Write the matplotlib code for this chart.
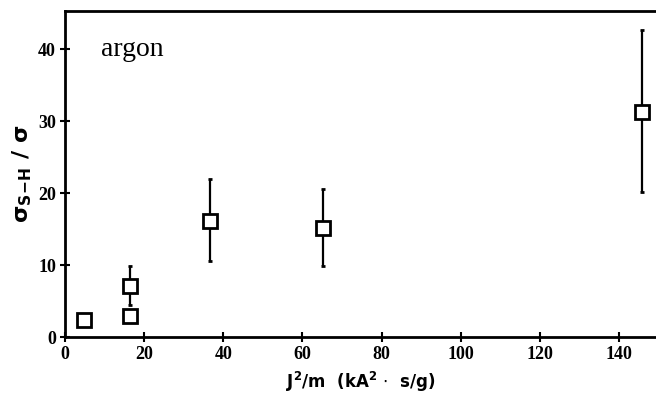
import matplotlib
matplotlib.use("Agg")
import matplotlib.pyplot as plt

# Hall-to-classical conductivity ratio for argon
j2_over_m = [4.7, 16.5, 16.5, 36.6, 65.3, 145.8]
ratio = [2.3, 7.1, 2.9, 16.1, 15.1, 31.3]
err_low = [0.0, 2.7, 0.0, 5.6, 5.2, 11.2]
err_high = [0.0, 2.8, 0.0, 5.8, 5.5, 11.3]

x_ticks = [0, 20, 40, 60, 80, 100, 120, 140]
y_ticks = [0, 10, 20, 30, 40]

plt.rcParams["font.family"] = ["Liberation Serif", "DejaVu Serif"]
plt.rcParams["mathtext.fontset"] = "dejavusans"

fig = plt.figure(figsize=(6.56, 4.05), dpi=100)
ax = fig.add_axes([65 / 656, 68 / 405, 592 / 656, 326 / 405])

ax.errorbar(j2_over_m, ratio, yerr=[err_low, err_high], fmt="s",
            mfc="white", mec="black", mew=2.0, ms=9.5, ecolor="black",
            elinewidth=1.6, capsize=1.5, capthick=1.5, zorder=3)

ax.set_xlim(0.5, 149.6)
ax.set_ylim(0, 45.3)
ax.set_xticks(x_ticks)
ax.set_yticks(y_ticks)

for side in ("left", "bottom", "top"):
    ax.spines[side].set_linewidth(2.0)
ax.spines["right"].set_visible(False)

ax.tick_params(direction="inout", length=7, width=1.5, labelsize=13,
               pad=3)
for lbl in ax.get_xticklabels() + ax.get_yticklabels():
    lbl.set_fontweight("bold")

ax.text(9.0, 40.0, "argon", fontsize=20, ha="left", va="center")

ax.set_xlabel(r"J$^{\mathbf{2}}$/m  (kA$^{\mathbf{2}}$ $\cdot$  s/g)",
              fontsize=12, fontweight="bold", labelpad=5,
              family="DejaVu Sans")
ax.set_ylabel(r"σ$_{\mathbf{S\!-\!H}}$ / σ", fontsize=16,
              fontweight="bold", labelpad=3, family="DejaVu Sans")

fig.savefig("out.png", dpi=100)
